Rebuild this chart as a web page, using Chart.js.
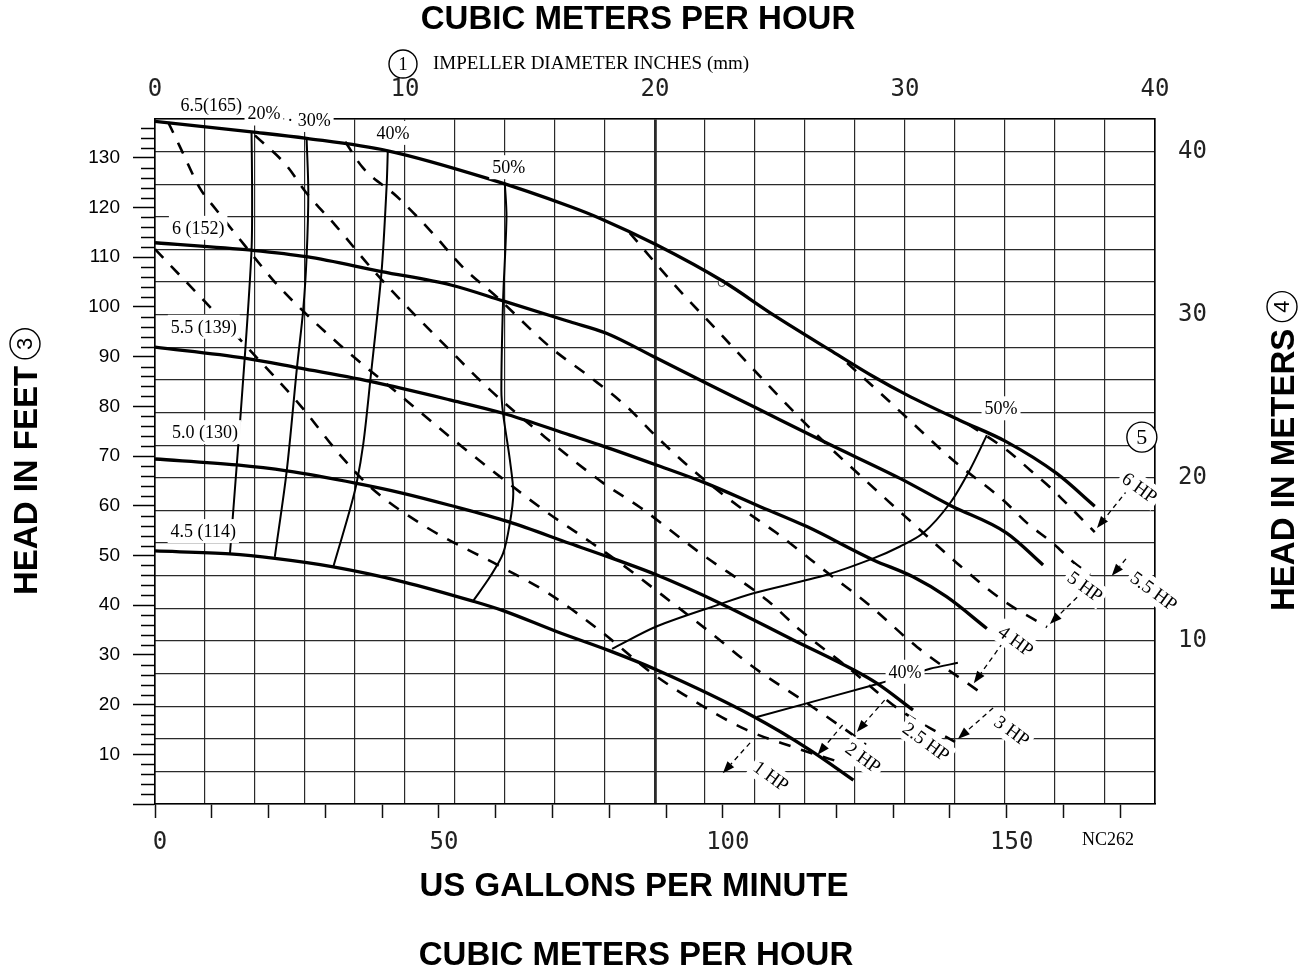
<!DOCTYPE html>
<html><head><meta charset="utf-8">
<style>html,body{margin:0;padding:0;background:#fff}canvas{display:block}</style>
<script src="https://cdn.jsdelivr.net/npm/chart.js@4.4.1/dist/chart.umd.min.js"></script>
</head><body>
<canvas id="c" width="1316" height="972"></canvas>
<script>
// ---- unit conversions / axis ranges ----
const M3H_TO_GPM = 4.40287;
const M_TO_FT = 3.28084;
const X_MAX_M3H = 40;
const Y_MAX_M = 42;

// ---- tick labels ----
const topTicks = [0, 10, 20, 30, 40];          // cubic meters per hour
const bottomTicks = [0, 50, 100, 150];         // US gallons per minute
const leftTicks = [10,20,30,40,50,60,70,80,90,100,110,120,130]; // feet
const rightTicks = [10, 20, 30, 40];           // meters

// ---- head curves, impeller diameters [gpm, ft] ----
const imp65 = [[0,137.3],[17.0,135.2],[26.7,133.9],[41.0,131.4],[58.4,125.9],[73.1,120.2],[78.4,117.8],[88.3,112.5],[100.1,105.1],[108.9,98.4],[118.9,91.3],[126.5,86.0],[132.4,82.3],[141.7,77.2],[149.9,72.9],[158.8,66.5],[165.5,59.9]];
const imp6  = [[0,112.9],[17.0,111.4],[26.7,110.1],[39.9,107.1],[52.1,104.4],[61.3,101.2],[73.1,97.0],[79.5,94.7],[88.3,89.7],[97.2,84.6],[106.0,79.6],[118.3,72.6],[131.2,65.5],[140.0,60.1],[150.0,54.5],[156.4,48.1]];
const imp55 = [[0,91.9],[15.8,89.7],[25.0,87.8],[37.9,85.0],[51.9,81.3],[61.3,78.6],[73.1,74.2],[78.4,72.2],[88.3,68.2],[97.1,64.5],[106.0,60.1],[114.8,55.8],[126.5,49.1],[133.5,45.7],[139.4,41.7],[146.5,35.3]];
const imp50 = [[0,69.4],[14.4,68.2],[23.2,67.0],[35.5,64.5],[43.7,62.5],[51.9,60.1],[62.2,56.8],[73.1,52.4],[81.3,49.1],[88.3,46.1],[99.5,40.4],[112.4,33.0],[123.0,27.0],[127.1,24.3],[133.5,18.9]];
const imp45 = [[0,50.9],[13.2,50.3],[21.1,49.4],[31.4,47.7],[43.7,44.7],[56.0,40.8],[61.3,38.9],[70.7,34.7],[80.1,30.8],[88.3,27.0],[105.4,17.6],[115.3,10.9],[123.0,4.8]];

// ---- efficiency curves [gpm, ft] ----
const eff20  = [[17.0,135.2],[17.1,123.7],[17.0,111.4],[15.8,89.7],[14.4,68.2],[13.2,50.4]];
const eff30  = [[26.7,133.9],[27.0,122.9],[26.7,110.1],[26.1,99.4],[25.0,87.8],[23.2,67.0],[21.1,49.7]];
const eff40  = [[41.0,131.4],[40.8,124.5],[39.9,107.1],[37.9,85.0],[36.7,72.6],[35.5,64.5],[34.3,59.1],[31.4,47.7]];
const eff50a = [[61.6,125.0],[61.9,118.1],[61.3,101.2],[61.0,83.3],[61.3,78.6],[62.5,69.2],[63.1,62.5],[62.5,56.5],[61.3,50.4],[59.0,45.7],[56.0,40.8]];
const eff50b = [[80.5,31.2],[88.3,35.7],[99.5,40.2],[105.4,42.4],[118.3,46.1],[126.5,49.4],[131.2,51.8],[135.3,54.5],[140.0,60.5],[143.5,67.2],[146.5,74.2]];
const eff40b = [[106.0,17.5],[127.7,24.3],[136.5,27.2],[141.4,28.4]];

// ---- horsepower curves [gpm, ft] ----
const hp2  = [[0,111.6],[9.0,100.8],[16.7,91.3],[25.5,80.3],[32.6,70.2],[37.9,63.8],[47.2,56.1],[61.3,47.5],[69.0,42.6],[78.9,34.4],[87.2,26.6],[94.7,20.9],[104.2,14.9],[112.3,11.5],[121.2,8.2]];
const hp25 = [[2.3,137.2],[4.4,132.2],[7.9,123.9],[10.6,119.8],[15.0,113.5],[17.6,109.8],[21.1,105.0],[25.5,99.8],[32.6,92.3],[43.1,82.3],[52.0,73.8],[60.8,65.8],[69.0,58.7],[75.4,53.7],[81.9,48.5],[88.9,42.4],[97.7,34.6],[105.3,27.6],[114.8,20.3],[122.4,14.3],[125.2,11.9]];
const hp3  = [[17.6,134.5],[23.2,128.4],[26.6,123.0],[31.7,116.5],[38.7,107.0],[44.9,99.4],[51.4,91.9],[59.0,83.3],[68.7,73.8],[78.9,64.6],[85.4,59.7],[96.0,50.5],[107.8,41.0],[113.6,35.0],[121.9,27.6],[131.2,18.9],[140.9,12.5]];
const hp4  = [[33.5,133.2],[36.6,128.0],[42.6,122.2],[49.0,114.7],[54.2,108.0],[60.2,102.0],[69.6,91.9],[76.6,85.9],[83.1,79.9],[88.4,73.8],[94.7,67.2],[103.0,59.7],[109.5,54.5],[118.9,46.1],[125.4,40.4],[134.2,31.6],[145.3,22.5]];
const hp5  = [[83.6,114.9],[91.2,104.8],[99.8,94.3],[108.3,83.9],[116.6,74.2],[125.6,64.6],[134.2,55.7],[141.2,48.5],[149.3,41.0],[157.1,35.6]];
const hp55 = [[121.9,88.7],[127.7,82.7],[134.2,75.8],[140.5,69.2],[149.3,61.2],[153.6,56.5],[158.1,52.5],[161.7,48.7],[164.7,46.1]];
const hp6  = [[143.2,76.4],[150.0,71.2],[154.1,67.2],[158.1,63.2],[161.7,59.1],[165.5,54.7]];

const ratedPoint = [[99.8,104.8]];

// ---- annotation anchors (data units) ----
const curveLabels = [
  ['6.5(165)', 9.9, 140.6], ['20%', 19.2, 138.9], ['· 30%', 27.1, 137.6], ['40%', 41.9, 135.0], ['50%', 62.3, 128.1],
  ['6 (152)', 7.6, 115.9], ['5.5 (139)', 8.6, 96.0], ['5.0 (130)', 8.8, 74.8], ['4.5 (114)', 8.5, 54.9],
  ['50%', 149.0, 79.6], ['40%', 132.1, 26.6]
];
const hpLabels = [
  ['6 HP', 173.4, 63.6], ['5.5 HP', 175.9, 42.8], ['5 HP', 163.8, 43.7], ['4 HP', 151.6, 32.8],
  ['3 HP', 150.9, 14.7], ['2.5 HP', 135.8, 12.5], ['2 HP', 124.7, 9.3], ['1 HP', 108.5, 5.6]
];
const hpArrows = [
  [171.3,63.2,165.9,55.5], [171.0,49.3,168.5,45.9], [162.4,41.6,157.6,36.2], [149.3,32.4,144.2,24.3],
  [147.6,19.3,141.4,13.1], [128.5,20.9,123.6,14.5], [121.1,15.9,116.7,9.9], [104.8,12.3,100.0,6.2]
];
const circle5 = [173.8, 73.8];

// ---- styles ----
const MONO = {family: '"DejaVu Sans Mono", monospace', size: 24};
const SANS = {family: '"Liberation Sans", Arial, sans-serif', size: 19};
const LABEL_FONT = '18px "Liberation Serif", "Times New Roman", serif';
const HP_FONT = '19px "Liberation Serif", "Times New Roman", serif';
const TITLE_FONT = 'bold 33px "Liberation Sans", Arial, sans-serif';
const HP_ANGLE = 36 * Math.PI / 180;

const toXY = a => a.map(p => ({x: p[0], y: p[1]}));
function line(label, arr, extra) {
  return Object.assign({label, data: toXY(arr), showLine: true, pointRadius: 0, borderColor: '#000',
    fill: false, tension: 0.3, xAxisID: 'x', yAxisID: 'y'}, extra);
}
const HEAD = {borderWidth: 3.3, cubicInterpolationMode: 'monotone'};
const EFF = {borderWidth: 2};
const HPS = {borderWidth: 2.6, borderDash: [12, 11], cubicInterpolationMode: 'monotone'};

function boxText(ctx, text, px, py, ang, font) {
  ctx.save();
  ctx.translate(px, py);
  ctx.rotate(ang);
  ctx.font = font;
  const w = ctx.measureText(text).width;
  ctx.fillStyle = '#fff';
  ctx.fillRect(-w / 2 - 3, -12, w + 6, 24);
  ctx.fillStyle = '#000';
  ctx.textAlign = 'center';
  ctx.textBaseline = 'middle';
  ctx.fillText(text, 0, 1);
  ctx.restore();
}
function circled(ctx, cx, cy, r, digit, font, ang) {
  ctx.save();
  ctx.translate(cx, cy);
  ctx.rotate(ang || 0);
  ctx.beginPath();
  ctx.arc(0, 0, r, 0, Math.PI * 2);
  ctx.fillStyle = '#fff';
  ctx.fill();
  ctx.lineWidth = 1.4;
  ctx.strokeStyle = '#000';
  ctx.stroke();
  ctx.fillStyle = '#000';
  ctx.font = font;
  ctx.textAlign = 'center';
  ctx.textBaseline = 'middle';
  ctx.fillText(digit, 0, 1);
  ctx.restore();
}

const annot = {
  id: 'annot',
  afterDatasetsDraw(chart) {
    const {ctx} = chart;
    const xs = chart.scales.x, ys = chart.scales.y;
    const X = v => xs.getPixelForValue(v), Y = v => ys.getPixelForValue(v);
    // arrows from HP labels
    ctx.save();
    ctx.strokeStyle = '#000'; ctx.fillStyle = '#000'; ctx.lineWidth = 1.3;
    hpArrows.forEach(([tx, ty, hx, hy]) => {
      const x1 = X(tx), y1 = Y(ty), x2 = X(hx), y2 = Y(hy);
      const a = Math.atan2(y2 - y1, x2 - x1);
      const L = 12, W = 4.5;
      const bx = x2 - L * Math.cos(a), by = y2 - L * Math.sin(a);
      ctx.setLineDash([5, 4]);
      ctx.beginPath(); ctx.moveTo(x1, y1); ctx.lineTo(bx, by); ctx.stroke();
      ctx.setLineDash([]);
      ctx.beginPath(); ctx.moveTo(x2, y2);
      ctx.lineTo(bx + W * Math.sin(a), by - W * Math.cos(a));
      ctx.lineTo(bx - W * Math.sin(a), by + W * Math.cos(a));
      ctx.closePath(); ctx.fill();
    });
    ctx.restore();
    curveLabels.forEach(([t, vx, vy]) => boxText(ctx, t, X(vx), Y(vy), 0, LABEL_FONT));
    hpLabels.forEach(([t, vx, vy]) => boxText(ctx, t, X(vx), Y(vy), HP_ANGLE, HP_FONT));
    circled(ctx, X(circle5[0]), Y(circle5[1]), 15, '5', '22px "Liberation Serif", serif', 0);
  },
  afterDraw(chart) {
    const {ctx} = chart;
    const ys = chart.scales.y;
    const area = chart.chartArea;
    // minor ticks on the feet axis
    ctx.save();
    ctx.strokeStyle = '#000'; ctx.lineWidth = 1.5;
    for (let v = 2; v < ys.max; v += 2) {
      if (v % 10 === 0) continue;
      const py = Math.round(ys.getPixelForValue(v)) + 0.5;
      ctx.beginPath(); ctx.moveTo(area.left - 14, py); ctx.lineTo(area.left, py); ctx.stroke();
    }
    ctx.restore();
    // titles
    ctx.save();
    ctx.fillStyle = '#000';
    ctx.font = TITLE_FONT;
    ctx.textAlign = 'center'; ctx.textBaseline = 'middle';
    ctx.fillText('CUBIC METERS PER HOUR', 638, 20);
    ctx.fillText('US GALLONS PER MINUTE', 634, 887);
    ctx.fillText('CUBIC METERS PER HOUR', 636, 956);
    // left title
    ctx.textAlign = 'left';
    let w = ctx.measureText('HEAD IN FEET').width;
    ctx.save(); ctx.translate(27, 595); ctx.rotate(-Math.PI / 2); ctx.fillText('HEAD IN FEET', 0, 1); ctx.restore();
    circled(ctx, 25, 595 - w - 22, 15, '3', '22px "Liberation Sans", sans-serif', -Math.PI / 2);
    // right title
    ctx.font = TITLE_FONT; ctx.textAlign = 'left'; ctx.textBaseline = 'middle'; ctx.fillStyle = '#000';
    w = ctx.measureText('HEAD IN METERS').width;
    ctx.save(); ctx.translate(1284, 611); ctx.rotate(-Math.PI / 2); ctx.fillText('HEAD IN METERS', 0, 1); ctx.restore();
    circled(ctx, 1282, 611 - w - 22, 15, '4', '22px "Liberation Sans", sans-serif', -Math.PI / 2);
    // impeller note
    circled(ctx, 403, 64, 14, '1', '19px "Liberation Serif", serif', 0);
    ctx.fillStyle = '#000';
    ctx.font = '19px "Liberation Serif", serif';
    ctx.textAlign = 'left'; ctx.textBaseline = 'middle';
    ctx.fillText('IMPELLER DIAMETER INCHES (mm)', 433, 64);
    ctx.font = '18px "Liberation Serif", serif';
    ctx.textAlign = 'center';
    ctx.fillText('NC262', 1108, 840);
    ctx.restore();
  }
};

new Chart(document.getElementById('c'), {
  type: 'scatter',
  data: {
    datasets: [
      line('6.5 (165)', imp65, HEAD), line('6 (152)', imp6, HEAD), line('5.5 (139)', imp55, HEAD),
      line('5.0 (130)', imp50, HEAD), line('4.5 (114)', imp45, HEAD),
      line('20%', eff20, EFF), line('30%', eff30, EFF), line('40%', eff40, EFF),
      line('50%', eff50a, EFF), line('50% b', eff50b, EFF), line('40% b', eff40b, EFF),
      line('2 HP', hp2, HPS), line('2.5 HP', hp25, HPS), line('3 HP', hp3, HPS), line('4 HP', hp4, HPS),
      line('5 HP', hp5, HPS), line('5.5 HP', hp55, HPS), line('6 HP', hp6, HPS),
      {label: 'point', data: toXY(ratedPoint), showLine: false, pointRadius: 3.5, pointBackgroundColor: '#fff',
       pointBorderColor: '#333', pointBorderWidth: 1, xAxisID: 'x', yAxisID: 'y'}
    ]
  },
  options: {
    responsive: false,
    devicePixelRatio: 1,
    animation: false,
    events: [],
    layout: {padding: 0},
    plugins: {legend: {display: false}, title: {display: false}, tooltip: {enabled: false}},
    scales: {
      x: {
        type: 'linear', position: 'bottom', min: 0, max: X_MAX_M3H * M3H_TO_GPM,
        ticks: {stepSize: 10, autoSkip: false, includeBounds: false, maxRotation: 0, padding: 10, labelOffset: 5,
          color: '#222', font: MONO,
          callback: v => bottomTicks.includes(v) ? String(v) : ''},
        grid: {drawOnChartArea: false, drawTicks: true, tickLength: 14, tickColor: '#111', tickWidth: 1.5},
        border: {display: true, color: '#000', width: 1.6},
        afterFit: s => { s.height = 972 - 804; }
      },
      x2: {
        type: 'linear', position: 'top', min: 0, max: X_MAX_M3H,
        ticks: {stepSize: 2, autoSkip: false, maxRotation: 0, padding: 15, color: '#222', font: MONO,
          callback: v => topTicks.includes(v) ? String(v) : ''},
        grid: {drawTicks: false, color: '#2a2a2a', lineWidth: c => (c.tick && c.tick.value === 20) ? 2.8 : 1.2},
        border: {display: true, color: '#000', width: 1.6},
        afterFit: s => { s.height = 119; }
      },
      y: {
        type: 'linear', position: 'left', min: 0, max: Y_MAX_M * M_TO_FT,
        ticks: {stepSize: 2, autoSkip: false, includeBounds: false, padding: 13, color: '#000', font: SANS,
          callback: v => leftTicks.includes(v) ? String(v) : ''},
        grid: {drawOnChartArea: false, drawTicks: true, tickLength: 22, tickWidth: 1.5,
          tickColor: c => (c.tick && c.tick.value % 10 === 0) ? '#000' : 'rgba(0,0,0,0)'},
        border: {display: true, color: '#000', width: 1.6},
        afterFit: s => { s.width = 155; }
      },
      y2: {
        type: 'linear', position: 'right', min: 0, max: Y_MAX_M,
        ticks: {stepSize: 2, autoSkip: false, padding: 23, color: '#222', font: MONO,
          callback: v => rightTicks.includes(v) ? String(v) : ''},
        grid: {drawTicks: false, color: '#2a2a2a', lineWidth: 1.2},
        border: {display: true, color: '#000', width: 1.6},
        afterFit: s => { s.width = 1316 - 1155; }
      }
    }
  },
  plugins: [annot]
});
</script>
</body></html>
